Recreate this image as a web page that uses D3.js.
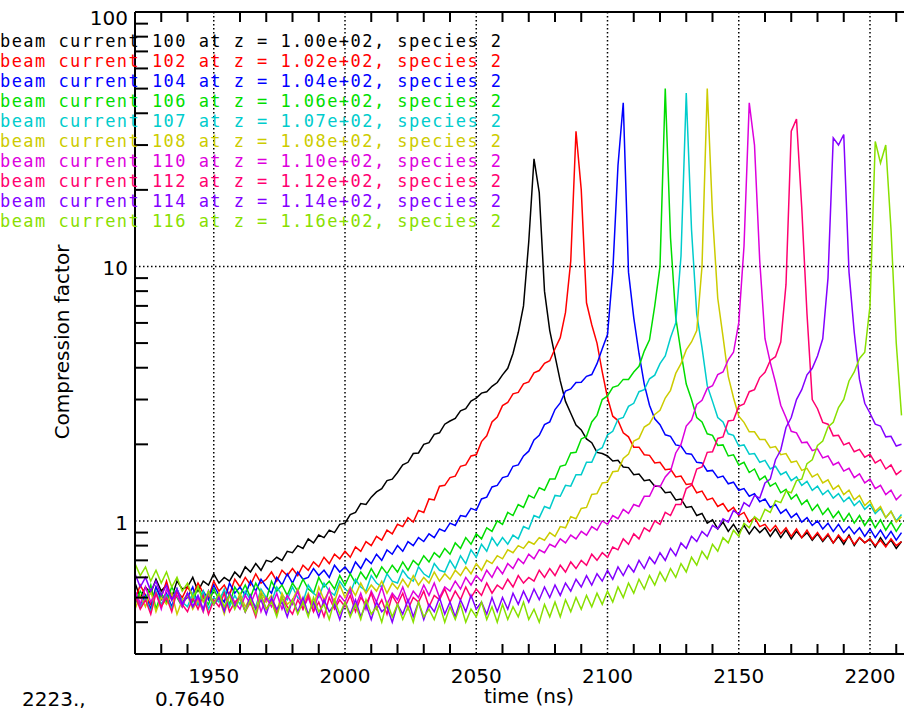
<!DOCTYPE html>
<html>
<head>
<meta charset="utf-8">
<script src="https://cdn.jsdelivr.net/npm/d3@7"></script>
<style>
body { margin: 0; background: #fff; }
text { font-family: "DejaVu Sans", sans-serif; }
</style>
</head>
<body>
<div id="chart"></div>
<script>
// sample grid of the traces (ns)
var t0 = 1920, dt = 2;

var currents = [100, 102, 104, 106, 107, 108, 110, 112, 114, 116];
var zLabels = ["1.00e+02", "1.02e+02", "1.04e+02", "1.06e+02", "1.07e+02",
               "1.08e+02", "1.10e+02", "1.12e+02", "1.14e+02", "1.16e+02"];
var colors = ["#000000", "#ff0000", "#0000ff", "#00dd00", "#00cccc",
              "#cccc00", "#dd00dd", "#ff0070", "#8400ff", "#88e000"];

var xTicks = [1950, 2000, 2050, 2100, 2150, 2200];
var yTicks = [1, 10, 100];
var yMinor = [0.4, 0.5, 0.6, 0.7, 0.8, 0.9, 2, 3, 4, 5, 6, 7, 8, 9, 20, 30, 40, 50, 60, 70, 80, 90];
var readout = ["2223.,", "0.7640"];

// compression factor, one value every 2 ns from 1920 ns
var s100 = [0.57,0.50,0.55,0.52,0.59,0.53,0.56,0.50,0.58,0.54,
 0.55,0.60,0.53,0.58,0.56,0.62,0.57,0.60,0.58,0.63,
 0.60,0.66,0.63,0.68,0.64,0.70,0.69,0.72,0.70,0.76,
 0.75,0.80,0.78,0.85,0.82,0.88,0.86,0.92,0.90,0.97,
 0.98,1.06,1.08,1.17,1.16,1.24,1.30,1.34,1.44,1.46,
 1.55,1.66,1.70,1.84,1.85,2.00,2.03,2.19,2.22,2.40,
 2.47,2.53,2.71,2.76,2.96,3.04,3.18,3.22,3.38,3.50,
 3.75,3.98,4.55,5.5,7.0,12.5,26.5,19.5,8.0,5.6,
 4.45,3.55,2.95,2.65,2.38,2.28,2.10,2.03,1.86,1.84,
 1.80,1.72,1.73,1.63,1.62,1.52,1.53,1.44,1.45,1.37,
 1.37,1.29,1.30,1.21,1.22,1.13,1.14,1.05,1.07,0.98,
 1.01,0.93,0.99,0.91,0.97,0.90,0.96,0.89,0.95,0.90,
 0.94,0.87,0.93,0.86,0.92,0.85,0.91,0.86,0.90,0.84,
 0.89,0.83,0.88,0.82,0.87,0.81,0.88,0.80,0.86,0.82,
 0.85,0.79,0.86,0.80,0.84,0.78,0.83];

var s102 = [0.49,0.56,0.51,0.47,0.55,0.50,0.58,0.49,0.53,0.50,
 0.55,0.51,0.57,0.52,0.50,0.58,0.53,0.56,0.51,0.59,
 0.55,0.60,0.56,0.62,0.57,0.59,0.63,0.58,0.64,0.61,
 0.65,0.61,0.67,0.64,0.69,0.66,0.72,0.68,0.74,0.71,
 0.76,0.72,0.79,0.76,0.83,0.80,0.87,0.84,0.92,0.89,
 0.97,0.95,1.03,0.99,1.10,1.08,1.22,1.21,1.37,1.38,
 1.48,1.50,1.64,1.66,1.80,1.82,2.05,2.16,2.45,2.56,
 2.84,2.92,3.16,3.20,3.46,3.52,3.82,3.90,4.16,4.26,
 4.75,5.25,6.6,10.5,34,20,7.2,5.9,5.0,3.85,
 3.05,2.58,2.48,2.22,2.14,1.95,1.95,1.82,1.81,1.69,
 1.70,1.59,1.60,1.49,1.50,1.39,1.40,1.29,1.31,1.21,
 1.23,1.14,1.17,1.09,1.13,1.05,1.08,0.99,1.03,0.95,
 0.97,0.91,0.96,0.89,0.94,0.87,0.93,0.86,0.92,0.85,
 0.90,0.84,0.89,0.82,0.88,0.83,0.87,0.81,0.86,0.82,
 0.85,0.80,0.84,0.79,0.85,0.80,0.83];

var s104 = [0.53,0.47,0.51,0.45,0.55,0.49,0.52,0.46,0.54,0.48,
 0.50,0.55,0.47,0.53,0.49,0.56,0.51,0.48,0.57,0.52,
 0.55,0.51,0.58,0.53,0.59,0.55,0.52,0.60,0.56,0.62,
 0.57,0.63,0.59,0.60,0.65,0.61,0.64,0.60,0.67,0.63,
 0.66,0.62,0.69,0.65,0.71,0.68,0.74,0.70,0.77,0.74,
 0.80,0.76,0.83,0.80,0.86,0.83,0.89,0.86,0.93,0.91,
 0.98,0.96,1.05,1.04,1.12,1.10,1.22,1.24,1.36,1.38,
 1.48,1.50,1.64,1.66,1.80,1.88,2.08,2.17,2.39,2.45,
 2.74,2.91,3.24,3.30,3.50,3.51,3.70,3.76,4.15,4.75,
 5.4,9.5,25,44,9.5,6.3,4.55,3.45,2.85,2.52,
 2.39,2.18,2.15,1.99,1.97,1.84,1.83,1.70,1.69,1.57,
 1.58,1.48,1.50,1.40,1.42,1.32,1.34,1.25,1.28,1.19,
 1.22,1.13,1.16,1.07,1.11,1.03,1.07,0.99,1.03,0.96,
 1.00,0.93,0.98,0.91,0.97,0.90,0.95,0.89,0.94,0.87,
 0.93,0.86,0.92,0.85,0.91,0.84,0.90];

var s106 = [0.47,0.53,0.49,0.56,0.45,0.52,0.48,0.55,0.50,0.46,
 0.52,0.48,0.55,0.50,0.47,0.54,0.49,0.53,0.47,0.55,
 0.51,0.56,0.50,0.57,0.52,0.49,0.58,0.53,0.56,0.51,
 0.57,0.53,0.59,0.54,0.52,0.60,0.55,0.58,0.54,0.61,
 0.56,0.62,0.57,0.63,0.59,0.65,0.60,0.66,0.62,0.67,
 0.63,0.69,0.64,0.70,0.67,0.73,0.69,0.75,0.72,0.78,
 0.74,0.82,0.78,0.86,0.81,0.89,0.85,0.94,0.91,1.00,
 0.97,1.08,1.05,1.16,1.13,1.26,1.23,1.35,1.32,1.46,
 1.46,1.64,1.66,1.85,1.86,2.10,2.15,2.45,2.60,3.00,
 3.10,3.35,3.40,3.60,3.60,3.85,4.05,4.65,5.15,7.0,
 10,50,13,6.3,4.6,3.45,3.00,2.55,2.45,2.20,
 2.17,1.98,1.99,1.80,1.82,1.66,1.70,1.55,1.60,1.45,
 1.50,1.37,1.41,1.29,1.33,1.22,1.27,1.16,1.21,1.10,
 1.16,1.06,1.12,1.03,1.09,1.00,1.07,0.98,1.05,0.96,
 1.03,0.94,1.01,0.92,0.99,0.91,0.98];

var s107 = [0.52,0.46,0.50,0.44,0.53,0.47,0.51,0.45,0.54,0.48,
 0.46,0.52,0.47,0.53,0.45,0.50,0.48,0.54,0.46,0.51,
 0.47,0.53,0.49,0.46,0.54,0.50,0.48,0.55,0.51,0.49,
 0.55,0.50,0.48,0.56,0.52,0.50,0.57,0.53,0.51,0.58,
 0.54,0.52,0.59,0.55,0.53,0.61,0.57,0.55,0.62,0.58,
 0.57,0.64,0.60,0.58,0.66,0.62,0.60,0.68,0.64,0.63,
 0.70,0.65,0.73,0.68,0.77,0.72,0.81,0.76,0.86,0.80,
 0.86,0.81,0.88,0.85,0.95,0.93,1.05,1.03,1.14,1.12,
 1.26,1.25,1.38,1.37,1.52,1.52,1.70,1.70,1.89,1.94,
 2.18,2.25,2.51,2.55,2.82,2.90,3.22,3.28,3.62,3.74,
 4.15,4.45,5.25,6.0,11,48,14,6.5,4.8,3.4,
 2.95,2.55,2.45,2.20,2.17,1.97,1.99,1.83,1.84,1.70,
 1.73,1.60,1.64,1.52,1.56,1.44,1.49,1.38,1.43,1.32,
 1.37,1.27,1.32,1.23,1.28,1.19,1.24,1.15,1.20,1.11,
 1.16,1.07,1.12,1.03,1.09,1.00,1.06];

var s108 = [0.45,0.51,0.46,0.53,0.44,0.50,0.47,0.52,0.43,0.49,
 0.51,0.45,0.49,0.44,0.52,0.47,0.50,0.43,0.51,0.46,
 0.52,0.46,0.50,0.45,0.53,0.48,0.51,0.44,0.52,0.47,
 0.49,0.54,0.47,0.52,0.46,0.55,0.49,0.53,0.48,0.56,
 0.50,0.55,0.51,0.57,0.52,0.56,0.53,0.58,0.52,0.57,
 0.54,0.59,0.55,0.61,0.56,0.60,0.57,0.63,0.58,0.62,
 0.59,0.64,0.61,0.66,0.62,0.68,0.64,0.70,0.68,0.73,
 0.71,0.77,0.75,0.80,0.78,0.83,0.81,0.86,0.84,0.90,
 0.87,0.95,0.94,1.04,1.02,1.12,1.13,1.27,1.28,1.41,
 1.42,1.56,1.57,1.76,1.83,2.06,2.11,2.34,2.41,2.62,
 2.72,3.04,3.26,3.80,4.15,4.70,5.05,5.6,10,50,
 16,7.5,5.3,3.7,3.05,2.58,2.44,2.24,2.24,2.09,
 2.09,1.94,1.96,1.82,1.84,1.70,1.72,1.58,1.61,1.49,
 1.53,1.41,1.45,1.33,1.38,1.27,1.32,1.21,1.26,1.15,
 1.20,1.09,1.14,1.03,1.09,0.99,1.04];

var s110 = [0.53,0.47,0.55,0.48,0.52,0.45,0.54,0.49,0.51,0.46,
 0.52,0.46,0.50,0.44,0.53,0.47,0.51,0.45,0.52,0.48,
 0.45,0.51,0.47,0.53,0.44,0.50,0.46,0.52,0.45,0.51,
 0.47,0.53,0.45,0.50,0.44,0.52,0.47,0.54,0.46,0.51,
 0.48,0.54,0.46,0.52,0.45,0.53,0.48,0.55,0.47,0.52,
 0.49,0.55,0.48,0.53,0.50,0.56,0.51,0.57,0.50,0.55,
 0.53,0.58,0.54,0.60,0.56,0.61,0.58,0.64,0.60,0.66,
 0.62,0.68,0.65,0.71,0.68,0.74,0.71,0.77,0.75,0.81,
 0.79,0.85,0.82,0.88,0.85,0.91,0.88,0.95,0.92,1.00,
 0.97,1.05,1.02,1.11,1.07,1.16,1.14,1.25,1.25,1.38,
 1.36,1.49,1.57,1.85,2.00,2.36,2.49,2.87,2.98,3.32,
 3.40,3.76,3.85,4.3,4.6,6.0,12,44,30,10.5,
 5.2,4.2,3.5,2.85,2.55,2.25,2.22,2.03,2.04,1.89,
 1.92,1.77,1.80,1.66,1.70,1.57,1.61,1.48,1.53,1.41,
 1.46,1.34,1.38,1.27,1.32,1.21,1.27];

var s112 = [0.51,0.45,0.49,0.43,0.52,0.46,0.50,0.44,0.53,0.47,
 0.44,0.50,0.45,0.51,0.43,0.49,0.46,0.52,0.44,0.48,
 0.50,0.44,0.48,0.42,0.51,0.45,0.49,0.43,0.50,0.46,
 0.43,0.49,0.45,0.51,0.44,0.48,0.42,0.50,0.45,0.49,
 0.46,0.51,0.44,0.50,0.47,0.52,0.45,0.49,0.43,0.51,
 0.47,0.52,0.45,0.50,0.48,0.53,0.46,0.51,0.49,0.54,
 0.48,0.53,0.49,0.55,0.50,0.54,0.51,0.57,0.52,0.56,
 0.54,0.59,0.55,0.61,0.57,0.60,0.58,0.64,0.60,0.65,
 0.61,0.67,0.63,0.69,0.65,0.70,0.67,0.74,0.70,0.75,
 0.72,0.79,0.77,0.85,0.81,0.89,0.85,0.94,0.91,1.00,
 0.97,1.08,1.05,1.16,1.16,1.34,1.38,1.60,1.63,1.86,
 1.87,2.11,2.14,2.47,2.49,2.82,2.88,3.22,3.28,3.66,
 3.84,4.27,4.42,5.05,8.5,34,38,17,6.5,3.0,
 2.76,2.44,2.40,2.16,2.17,1.99,2.03,1.87,1.91,1.78,
 1.83,1.69,1.74,1.60,1.66,1.52,1.58];

var s114 = [0.62,0.55,0.60,0.53,0.58,0.51,0.56,0.49,0.54,0.47,
 0.52,0.46,0.51,0.45,0.53,0.47,0.50,0.44,0.52,0.46,
 0.50,0.44,0.51,0.45,0.49,0.43,0.50,0.45,0.48,0.42,
 0.49,0.44,0.50,0.43,0.48,0.42,0.49,0.44,0.47,0.41,
 0.48,0.43,0.49,0.42,0.47,0.41,0.48,0.44,0.46,0.40,
 0.47,0.43,0.49,0.42,0.48,0.41,0.47,0.44,0.50,0.43,
 0.48,0.42,0.49,0.44,0.51,0.45,0.48,0.43,0.50,0.44,
 0.50,0.45,0.52,0.47,0.53,0.48,0.54,0.49,0.55,0.50,
 0.56,0.51,0.57,0.53,0.59,0.55,0.61,0.56,0.62,0.58,
 0.64,0.59,0.66,0.61,0.67,0.63,0.70,0.65,0.72,0.68,
 0.75,0.70,0.78,0.73,0.82,0.78,0.87,0.83,0.91,0.87,
 0.96,0.93,1.02,0.99,1.10,1.06,1.18,1.14,1.26,1.23,
 1.41,1.46,1.74,1.90,2.33,2.55,3.00,3.28,3.75,3.98,
 4.45,5.2,9.0,32,30,33,9.5,5.5,3.6,2.9,
 2.65,2.40,2.36,2.14,2.15,1.97,2.00];

var s116 = [0.68,0.61,0.66,0.58,0.64,0.57,0.63,0.55,0.60,0.53,
 0.57,0.50,0.55,0.48,0.53,0.47,0.52,0.46,0.51,0.45,
 0.50,0.44,0.49,0.43,0.51,0.45,0.48,0.42,0.50,0.44,
 0.49,0.43,0.48,0.42,0.50,0.44,0.47,0.41,0.49,0.43,
 0.48,0.42,0.47,0.41,0.49,0.43,0.46,0.40,0.48,0.42,
 0.47,0.41,0.46,0.40,0.48,0.42,0.45,0.41,0.47,0.40,
 0.46,0.41,0.47,0.40,0.45,0.42,0.48,0.41,0.46,0.40,
 0.47,0.41,0.46,0.42,0.48,0.41,0.45,0.40,0.47,0.42,
 0.48,0.42,0.49,0.44,0.50,0.45,0.51,0.46,0.52,0.47,
 0.53,0.48,0.55,0.50,0.57,0.52,0.59,0.54,0.61,0.56,
 0.63,0.58,0.65,0.60,0.68,0.63,0.72,0.67,0.76,0.71,
 0.81,0.76,0.86,0.82,0.92,0.87,0.98,0.94,1.04,1.00,
 1.11,1.08,1.20,1.18,1.31,1.29,1.44,1.46,1.68,1.74,
 1.98,2.06,2.34,2.44,2.79,3.00,3.55,3.85,4.35,4.6,
 7.0,31,25.5,30,14,5.0,2.6];

var series = [s100, s102, s104, s106, s107, s108, s110, s112, s114, s116];

var width = 904, height = 713;
var margin = {left: 135, top: 12, bottom: 654};

var svg = d3.select("#chart").append("svg")
    .attr("width", width)
    .attr("height", height)
    .style("display", "block")
    .style("background", "#fff");

var x = d3.scaleLinear().domain([1920, 2200]).range([margin.left, 870]);
var y = d3.scaleLog().domain([0.3, 100]).range([margin.bottom, margin.top]);

svg.append("clipPath").attr("id", "plot")
    .append("rect")
    .attr("x", margin.left).attr("y", margin.top)
    .attr("width", width - margin.left).attr("height", margin.bottom - margin.top);

// dotted grid
svg.selectAll(".vgrid")
    .data(xTicks)
    .enter()
    .append("line")
    .attr("class", "vgrid")
    .attr("x1", function(d) { return x(d); })
    .attr("x2", function(d) { return x(d); })
    .attr("y1", margin.top)
    .attr("y2", margin.bottom)
    .attr("stroke", "#000")
    .attr("stroke-width", 1.5)
    .attr("stroke-dasharray", "1.5,2.5");

svg.selectAll(".hgrid")
    .data(yTicks.slice(0, 2))
    .enter()
    .append("line")
    .attr("class", "hgrid")
    .attr("x1", margin.left)
    .attr("x2", width)
    .attr("y1", function(d) { return y(d); })
    .attr("y2", function(d) { return y(d); })
    .attr("stroke", "#000")
    .attr("stroke-width", 1.5)
    .attr("stroke-dasharray", "1.5,2.5");

// traces
var line = d3.line()
    .x(function(d, i) { return x(t0 + i * dt); })
    .y(function(d) { return y(d); });

svg.append("g")
    .attr("clip-path", "url(#plot)")
    .selectAll(".trace")
    .data(series)
    .enter()
    .append("path")
    .attr("class", "trace")
    .attr("d", line)
    .attr("fill", "none")
    .attr("stroke", function(d, i) { return colors[i]; })
    .attr("stroke-width", 1.5)
    .attr("stroke-linejoin", "miter");

// frame
var frame = svg.append("g").attr("stroke", "#000").attr("stroke-width", 2);
frame.append("line").attr("x1", margin.left).attr("x2", margin.left)
    .attr("y1", margin.top).attr("y2", margin.bottom);
frame.append("line").attr("x1", margin.left).attr("x2", width)
    .attr("y1", margin.bottom).attr("y2", margin.bottom);
frame.append("line").attr("x1", margin.left).attr("x2", width)
    .attr("y1", margin.top).attr("y2", margin.top);

// minor ticks
var xMinor = d3.range(1930, 2240, 10).filter(function(d) { return d % 50 !== 0; });
frame.selectAll(".xb").data(xMinor).enter().append("line")
    .attr("x1", function(d) { return x(d); }).attr("x2", function(d) { return x(d); })
    .attr("y1", margin.bottom).attr("y2", margin.bottom - 10);
frame.selectAll(".xt").data(xMinor).enter().append("line")
    .attr("x1", function(d) { return x(d); }).attr("x2", function(d) { return x(d); })
    .attr("y1", margin.top).attr("y2", margin.top + 10);
frame.selectAll(".yl").data(yMinor).enter().append("line")
    .attr("x1", margin.left).attr("x2", margin.left + 13)
    .attr("y1", function(d) { return y(d); }).attr("y2", function(d) { return y(d); });

// tick labels
svg.selectAll(".xlab")
    .data(xTicks)
    .enter()
    .append("text")
    .attr("x", function(d) { return x(d); })
    .attr("y", 683)
    .attr("text-anchor", "middle")
    .style("font-size", "20px")
    .text(function(d) { return d; });

svg.selectAll(".ylab")
    .data(yTicks)
    .enter()
    .append("text")
    .attr("x", 128)
    .attr("y", function(d) { return Math.max(y(d) + 9, 25); })
    .attr("text-anchor", "end")
    .style("font-size", "20px")
    .text(function(d) { return d; });

// axis titles
svg.append("text")
    .attr("x", 529)
    .attr("y", 703)
    .attr("text-anchor", "middle")
    .style("font-size", "20px")
    .text("time (ns)");

svg.append("text")
    .attr("transform", "translate(69,342) rotate(-90)")
    .attr("text-anchor", "middle")
    .style("font-size", "20px")
    .text("Compression factor");

// cursor readout
svg.selectAll(".readout")
    .data(readout)
    .enter()
    .append("text")
    .attr("x", function(d, i) { return i === 0 ? 22 : 155; })
    .attr("y", 706)
    .style("font-size", "20px")
    .text(function(d) { return d; });

// legend
svg.selectAll(".legend")
    .data(currents)
    .enter()
    .append("text")
    .attr("x", 0)
    .attr("y", function(d, i) { return 47 + i * 20; })
    .attr("fill", function(d, i) { return colors[i]; })
    .style("font-family", "'DejaVu Sans Mono', monospace")
    .style("font-size", "17px")
    .style("letter-spacing", "1.45px")
    .style("white-space", "pre")
    .text(function(d, i) { return "beam current " + d + " at z = " + zLabels[i] + ", species 2"; });
</script>
</body>
</html>
